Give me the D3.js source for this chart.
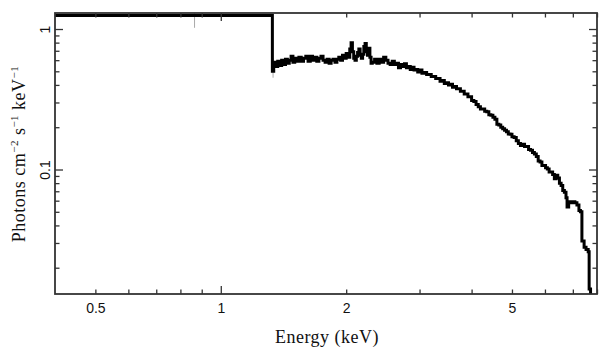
<!DOCTYPE html>
<html><head><meta charset="utf-8">
<script src="https://cdn.jsdelivr.net/npm/d3@7"></script>
<style>
html,body{margin:0;padding:0;background:#fff;}
svg{display:block;}
</style></head>
<body>
<svg id="chart" width="608" height="357"></svg>
<script>
// ---- data ----
const binEnergy = [0.4,
  1.33, 1.34, 1.355, 1.37, 1.385, 1.40, 1.415, 1.43, 1.445, 1.46, 1.475, 1.49, 1.505, 1.52, 1.54, 1.56, 1.58, 1.60, 1.62, 1.64, 1.66, 1.68, 1.70, 1.72, 1.74, 1.76, 1.78, 1.80, 1.82, 1.84, 1.86, 1.88, 1.90, 1.92, 1.94, 1.96, 1.98, 2.00, 2.02, 2.04, 2.055, 2.07, 2.085, 2.10, 2.115, 2.13, 2.145, 2.16, 2.175, 2.19, 2.205, 2.22, 2.235, 2.25, 2.265, 2.28, 2.295,
  2.31, 2.34, 2.37, 2.40, 2.43, 2.46, 2.49, 2.52, 2.55, 2.58, 2.61, 2.64, 2.67, 2.70, 2.73, 2.76, 2.79, 2.82, 2.85, 2.88, 2.91, 2.94, 2.97, 3.00, 3.04, 3.08, 3.12, 3.16, 3.20, 3.24, 3.28, 3.32, 3.36, 3.40, 3.44, 3.48, 3.52, 3.56, 3.60, 3.64, 3.68, 3.72, 3.76, 3.80, 3.84, 3.88, 3.92, 3.96, 4.00,
  4.05, 4.10, 4.15, 4.20, 4.25, 4.30, 4.35, 4.40, 4.45, 4.50, 4.55, 4.60, 4.65, 4.70, 4.75, 4.80, 4.85, 4.90, 4.95, 5.00, 5.06, 5.12, 5.18, 5.24, 5.30, 5.36, 5.42, 5.48, 5.54, 5.60, 5.66, 5.72, 5.78, 5.84, 5.90, 5.96, 6.02, 6.08, 6.14, 6.20, 6.26, 6.32, 6.38, 6.44, 6.50, 6.56, 6.62, 6.68, 6.74, 6.78, 6.84, 6.92, 7.00, 7.08, 7.16, 7.24, 7.30, 7.36, 7.45, 7.53, 7.62, 7.66, 7.72];
const binFlux = [1.25,
  0.50, 0.58, 0.54, 0.59, 0.55, 0.60, 0.56, 0.61, 0.57, 0.60, 0.64, 0.58, 0.62, 0.59, 0.63, 0.59, 0.62, 0.64, 0.59, 0.64, 0.60, 0.63, 0.59, 0.62, 0.64, 0.60, 0.58, 0.61, 0.57, 0.60, 0.61, 0.58, 0.61, 0.63, 0.60, 0.65, 0.62, 0.67, 0.63, 0.72, 0.80, 0.69, 0.62, 0.60, 0.64, 0.68, 0.72, 0.65, 0.62, 0.66, 0.75, 0.79, 0.69, 0.65, 0.73, 0.63, 0.57,
  0.58, 0.61, 0.57, 0.61, 0.58, 0.63, 0.60, 0.57, 0.56, 0.59, 0.56, 0.57, 0.53, 0.56, 0.54, 0.565, 0.53, 0.54, 0.515, 0.535, 0.51, 0.515, 0.495, 0.51, 0.485, 0.49, 0.475, 0.475, 0.46, 0.46, 0.445, 0.445, 0.425, 0.43, 0.41, 0.415, 0.40, 0.405, 0.385, 0.39, 0.375, 0.375, 0.36, 0.36, 0.345, 0.345, 0.33, 0.33, 0.31,
  0.305, 0.29, 0.28, 0.27, 0.27, 0.26, 0.258, 0.245, 0.243, 0.235, 0.228, 0.21, 0.207, 0.20, 0.195, 0.19, 0.186, 0.179, 0.178, 0.171, 0.169, 0.16, 0.153, 0.148, 0.151, 0.146, 0.146, 0.139, 0.137, 0.132, 0.129, 0.124, 0.115, 0.113, 0.107, 0.107, 0.103, 0.101, 0.096, 0.096, 0.092, 0.086, 0.091, 0.087, 0.080, 0.077, 0.071, 0.069, 0.063, 0.054, 0.059, 0.058, 0.059, 0.058, 0.056, 0.051, 0.05, 0.031, 0.028, 0.027, 0.026, 0.0141, 0.01];
const lastEdge = 7.75;

const errEnergy = [0.865, 1.335];
const errLow    = [1.02, 0.45];
const errHigh   = [1.5, 0.62];

const xTicks  = [0.5, 0.6, 0.7, 0.8, 0.9, 1, 2, 3, 4, 5, 6, 7, 8];
const xLabels = [0.5, 1, 2, 5];
const yTicks  = [0.02, 0.03, 0.04, 0.05, 0.06, 0.07, 0.08, 0.09, 0.1, 0.2, 0.3, 0.4, 0.5, 0.6, 0.7, 0.8, 0.9, 1];
const yLabels = [0.1, 1];
const majorTicks = [0.1, 1, 10];

const xTitle = "Energy (keV)";

// ---- layout ----
const svg = d3.select("#chart");
const L = 55, R = 597, T = 13, B = 294;
const x = d3.scaleLog().domain([0.4, 8]).range([L, R]);
const y = d3.scaleLog().domain([0.013, 1.3]).range([B, T]);
const minorLen = 4.5, majorLen = 8;
const axisColor = "#333";
const isMajor = d => majorTicks.some(m => Math.abs(m - d) < 1e-9);
const fmt = d => String(d);

svg.append("defs").append("clipPath").attr("id", "clip")
  .append("rect").attr("x", L).attr("y", T).attr("width", R - L).attr("height", B - T);

// error bars
const plot = svg.append("g").attr("clip-path", "url(#clip)");
plot.selectAll("line.err").data(errEnergy).enter().append("line")
  .attr("class", "err")
  .attr("x1", d => x(d)).attr("x2", d => x(d))
  .attr("y1", (d, i) => y(errLow[i])).attr("y2", (d, i) => y(errHigh[i]))
  .attr("stroke", "#aaa").attr("stroke-width", 1);

// spectrum
const pts = binEnergy.map((e, i) => [e, binFlux[i]]);
pts.push([lastEdge, binFlux[binFlux.length - 1]]);
const line = d3.line().x(d => x(d[0])).y(d => y(d[1])).curve(d3.curveStepAfter);
plot.append("path").datum(pts).attr("d", line)
  .attr("fill", "none").attr("stroke", "#000").attr("stroke-width", 3)
  .attr("stroke-linejoin", "miter");

// axes
function styleAxis(g, horiz, sign) {
  g.select(".domain").remove();
  g.selectAll(".tick line").attr("stroke", axisColor).attr("stroke-width", 1.3)
    .each(function(d) {
      const len = (isMajor(d) ? majorLen : minorLen) * sign;
      d3.select(this).attr(horiz ? "y2" : "x2", len);
    });
  g.selectAll("text").attr("fill", "#111");
}

const xb = svg.append("g").attr("transform", `translate(0,${B})`)
  .call(d3.axisBottom(x).tickValues(xTicks).tickSize(-minorLen).tickSizeOuter(0).tickPadding(9)
    .tickFormat(d => xLabels.includes(d) ? fmt(d) : ""));
xb.attr("font-family", "'Liberation Sans', Arial, sans-serif").attr("font-size", 14);
styleAxis(xb, true, -1);

const xt = svg.append("g").attr("transform", `translate(0,${T})`)
  .call(d3.axisTop(x).tickValues(xTicks).tickSize(-minorLen).tickSizeOuter(0).tickFormat(""));
styleAxis(xt, true, 1);

const yl = svg.append("g").attr("transform", `translate(${L},0)`)
  .call(d3.axisLeft(y).tickValues(yTicks).tickSize(-minorLen).tickSizeOuter(0).tickPadding(5)
    .tickFormat(d => yLabels.includes(d) ? fmt(d) : ""));
yl.attr("font-family", "'Liberation Sans', Arial, sans-serif").attr("font-size", 14);
styleAxis(yl, false, 1);
yl.selectAll(".tick text")
  .attr("transform", "rotate(-90)")
  .attr("x", 0).attr("y", -5).attr("dy", 0)
  .attr("text-anchor", "middle");

const yr = svg.append("g").attr("transform", `translate(${R},0)`)
  .call(d3.axisRight(y).tickValues(yTicks).tickSize(-minorLen).tickSizeOuter(0).tickFormat(""));
styleAxis(yr, false, -1);

// frame
svg.append("rect").attr("x", L).attr("y", T).attr("width", R - L).attr("height", B - T)
  .attr("fill", "none").attr("stroke", axisColor).attr("stroke-width", 1.8);

// titles
svg.append("text").attr("x", 327).attr("y", 343).attr("text-anchor", "middle")
  .attr("font-family", "'Liberation Serif', 'Times New Roman', serif").attr("font-size", 18)
  .attr("letter-spacing", 0.5)
  .attr("fill", "#111").text(xTitle);

const yt = svg.append("text").attr("transform", "translate(25,154) rotate(-90)")
  .attr("text-anchor", "middle")
  .attr("font-family", "'Liberation Serif', 'Times New Roman', serif").attr("font-size", 18)
  .attr("letter-spacing", 0.5)
  .attr("fill", "#111");
yt.append("tspan").text("Photons cm");
yt.append("tspan").attr("font-size", 11).attr("dy", -7).text("\u22122");
yt.append("tspan").attr("dy", 7).text(" s");
yt.append("tspan").attr("font-size", 11).attr("dy", -7).text("\u22121");
yt.append("tspan").attr("dy", 7).text(" keV");
yt.append("tspan").attr("font-size", 11).attr("dy", -7).text("\u22121");
</script>
</body></html>
